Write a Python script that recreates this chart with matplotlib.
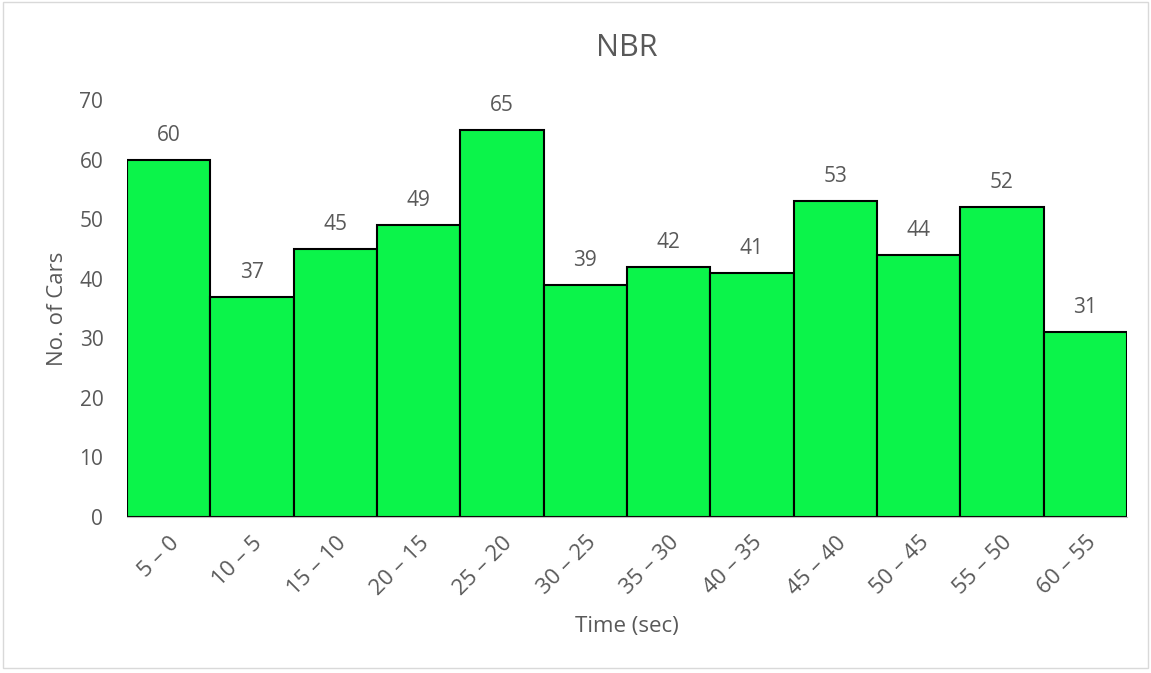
import matplotlib
matplotlib.use("Agg")
import matplotlib.pyplot as plt
from matplotlib.patches import Rectangle

categories = ["5 – 0", "10 – 5", "15 – 10", "20 – 15", "25 – 20", "30 – 25",
              "35 – 30", "40 – 35", "45 – 40", "50 – 45", "55 – 50", "60 – 55"]
counts = [60, 37, 45, 49, 65, 39, 42, 41, 53, 44, 52, 31]
y_ticks = [0, 10, 20, 30, 40, 50, 60, 70]

plt.rcParams["font.family"] = ["Open Sans", "DejaVu Sans"]
text_color = "#595959"

fig = plt.figure(figsize=(11.51, 6.73), dpi=100)
fig.patches.append(Rectangle((0.003, 0.008), 0.994, 0.989, transform=fig.transFigure,
                             fill=False, edgecolor="#d9d9d9", linewidth=1.0))

ax = fig.add_axes([0.1103, 0.2318, 0.8688, 0.6196])
x = range(len(categories))
bars = ax.bar(x, counts, width=1.0, color="#0BF44A", edgecolor="black", linewidth=1.5, zorder=2)

for xi, v in zip(x, counts):
    ax.annotate(str(v), (xi, v), xytext=(0, 10), textcoords="offset points",
                ha="center", va="bottom", fontsize=15, color=text_color)

ax.set_xlim(-0.5, len(categories) - 0.5)
ax.set_ylim(0, 70)
ax.set_yticks(y_ticks)
ax.set_xticks(list(x))
ax.set_xticklabels(categories, rotation=45, ha="right", rotation_mode="anchor")
ax.tick_params(axis="both", length=0, colors=text_color)
ax.tick_params(axis="y", pad=17, labelsize=15)
ax.tick_params(axis="x", pad=11, labelsize=16)

for side in ["top", "right", "left"]:
    ax.spines[side].set_visible(False)
ax.spines["bottom"].set_color("#bfbfbf")

ax.set_title("NBR", fontsize=22, color=text_color, pad=32)
ax.set_xlabel("Time (sec)", fontsize=16, color=text_color, labelpad=12)
ax.set_ylabel("No. of Cars", fontsize=16, color=text_color, labelpad=8)

fig.savefig("out.png", dpi=100)
